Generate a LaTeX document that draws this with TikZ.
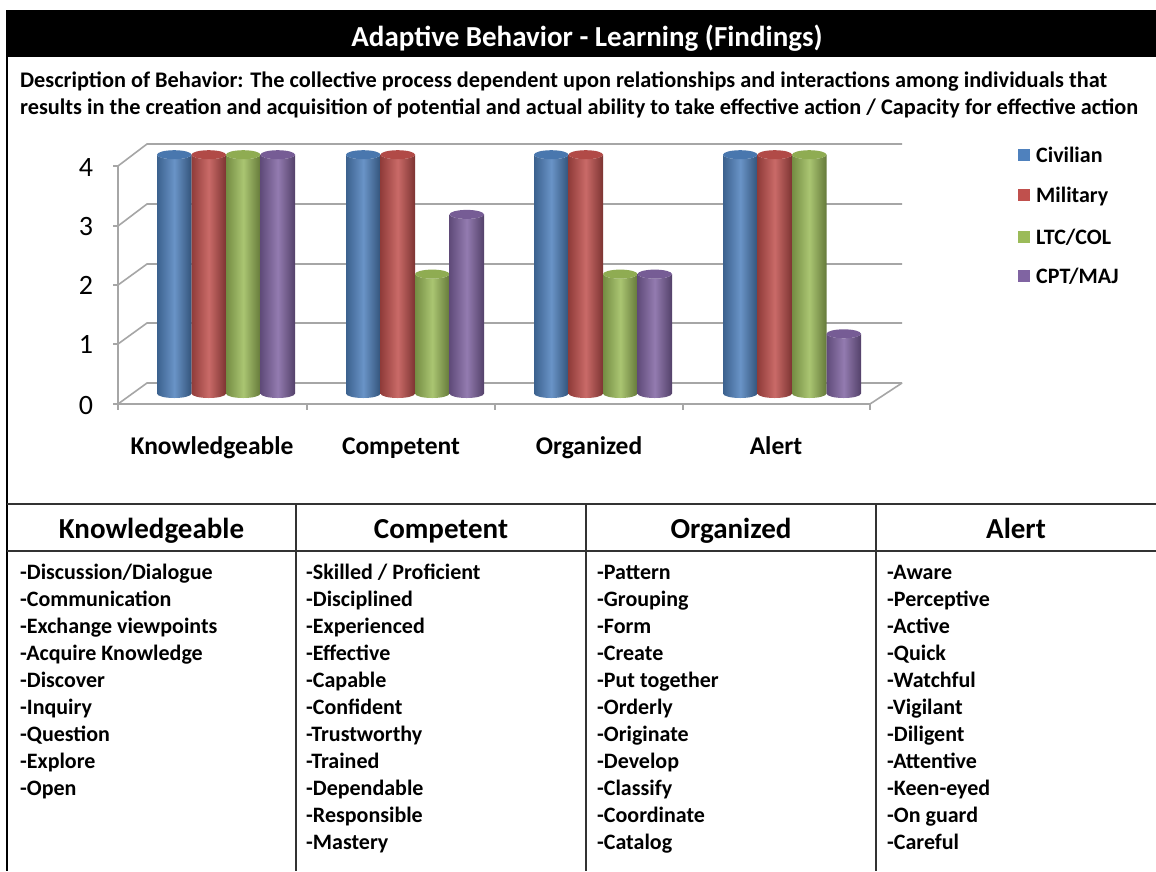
\documentclass[tikz,border=0pt]{standalone}
\usepackage{fontspec}
\setmainfont{Carlito}
\definecolor{cblue}{HTML}{4F81BD}
\definecolor{cred}{HTML}{C0504D}
\definecolor{cgreen}{HTML}{9BBB59}
\definecolor{cpurple}{HTML}{8064A2}
\definecolor{gridc}{HTML}{A6A6A6}
\definecolor{linec}{HTML}{333333}
\newcommand\cyl[3]{%
 \pgfmathsetmacro\yt{393.5-#2*59.7}%
 \shade[left color=#3!75!black, right color=#3!65!black, middle color=#3!85!white]
   (#1,\yt) -- (#1,393.5) arc[start angle=180,end angle=0,x radius=17.25,y radius=4.5]
   -- (#1+34.5,\yt) arc[start angle=0,end angle=180,x radius=17.25,y radius=4.5] -- cycle;
 \fill[#3!92!black] (#1+17.25,\yt) ellipse[x radius=17.25,y radius=4.5];
}
\begin{document}
\begin{tikzpicture}[x=1pt,y=-1pt,
  txt/.style={inner sep=0pt,text height=0.66em,text depth=0pt},
  grid/.style={gridc,line width=1.6pt},
  tline/.style={linec,line width=2pt},
  desc/.style={txt,anchor=west,yshift=-4.5pt,font=\bfseries\fontsize{22.3}{24}\selectfont},
  ylab/.style={txt,yshift=-7pt,font=\fontsize{28}{30}\selectfont},
  catlab/.style={txt,yshift=-5.5pt,font=\bfseries\fontsize{25.5}{28}\selectfont},
  leglab/.style={txt,anchor=west,yshift=-4.5pt,font=\bfseries\fontsize{22}{24}\selectfont},
  head/.style={txt,yshift=-6.5pt,font=\bfseries\fontsize{29}{31}\selectfont},
  item/.style={txt,anchor=west,yshift=-4.5pt,font=\bfseries\fontsize{22}{24}\selectfont}]
\useasboundingbox (0,0) rectangle (1156,871);
\fill[white] (0,0) rectangle (1156,871);
% title bar
\fill[black] (7,10) rectangle (1156,57);
\node[txt,yshift=-7pt,text=white,font=\bfseries\fontsize{29}{31}\selectfont] (title) at (587,36) {Adaptive Behavior - Learning (Findings)};
\draw[black,line width=2pt] (7,10) -- (7,871);
% description
\node[desc] (d1) at (20,80) {Description of Behavior: The collective process dependent upon relationships and interactions among individuals that};
\node[desc] (d2) at (20,107) {results in the creation and acquisition of potential and actual ability to take effective action / Capacity for effective action};
% chart walls
\foreach \yb/\yf in {144/166,204/226,264/285,323/344,383/404}{
  \draw[grid] (113,\yf) -- (118,\yf) -- (147,\yb) -- (902,\yb);
}
\draw[grid] (118,166) -- (118,404) -- (870,404) -- (902,383);
\foreach \xt in {118,307,495,683,870}{\draw[grid] (\xt,404) -- (\xt,410);}
% y labels
\node[ylab] (y4) at (86,166) {4};
\node[ylab] (y3) at (86,225) {3};
\node[ylab] (y2) at (86,284) {2};
\node[ylab] (y1) at (86,343) {1};
\node[ylab] (y0) at (86,404) {0};
% bars
\foreach \gx/\va/\vb/\vc/\vd in {157/4/4/4/4,346/4/4/2/3,534/4/4/2/2,723/4/4/4/1}{
  \cyl{\gx}{\va}{cblue}
  \cyl{\gx+34.5}{\vb}{cred}
  \cyl{\gx+69}{\vc}{cgreen}
  \cyl{\gx+103.5}{\vd}{cpurple}
}
% category labels
\node[catlab] (c1) at (212,446) {Knowledgeable};
\node[catlab] (c2) at (401,446) {Competent};
\node[catlab] (c3) at (589,446) {Organized};
\node[catlab] (c4) at (776,446) {Alert};
% legend
\foreach \yy/\cc/\tt/\nn in {155/cblue/Civilian/l1,195/cred/Military/l2,237/cgreen/LTC\slash COL/l3,276/cpurple/CPT\slash MAJ/l4}{
  \fill[\cc] (1018,\yy-6) rectangle (1030,\yy+6);
  \node[leglab] (\nn) at (1036,\yy) {\tt};
}
% table
\draw[tline] (7,504) -- (1156,504);
\draw[tline] (7,551) -- (1156,551);
\foreach \xv in {296,586,876}{\draw[tline] (\xv,504) -- (\xv,871);}
\node[head] (h1) at (151.5,529) {Knowledgeable};
\node[head] (h2) at (441,529) {Competent};
\node[head] (h3) at (731,529) {Organized};
\node[head] (h4) at (1016,529) {Alert};
\foreach \t [count=\i] in {-Discussion/Dialogue,-Communication,-Exchange viewpoints,-Acquire Knowledge,-Discover,-Inquiry,-Question,-Explore,-Open}{
  \node[item] (ka\i) at (20,572+27*\i-27) {\t};
}
\foreach \t [count=\i] in {-Skilled / Proficient,-Disciplined,-Experienced,-Effective,-Capable,-Confident,-Trustworthy,-Trained,-Dependable,-Responsible,-Mastery}{
  \node[item] (kb\i) at (306,572+27*\i-27) {\t};
}
\foreach \t [count=\i] in {-Pattern,-Grouping,-Form,-Create,-Put together,-Orderly,-Originate,-Develop,-Classify,-Coordinate,-Catalog}{
  \node[item] (kc\i) at (597,572+27*\i-27) {\t};
}
\foreach \t [count=\i] in {-Aware,-Perceptive,-Active,-Quick,-Watchful,-Vigilant,-Diligent,-Attentive,-Keen-eyed,-On guard,-Careful}{
  \node[item] (kd\i) at (887,572+27*\i-27) {\t};
}
\end{tikzpicture}
\end{document}
